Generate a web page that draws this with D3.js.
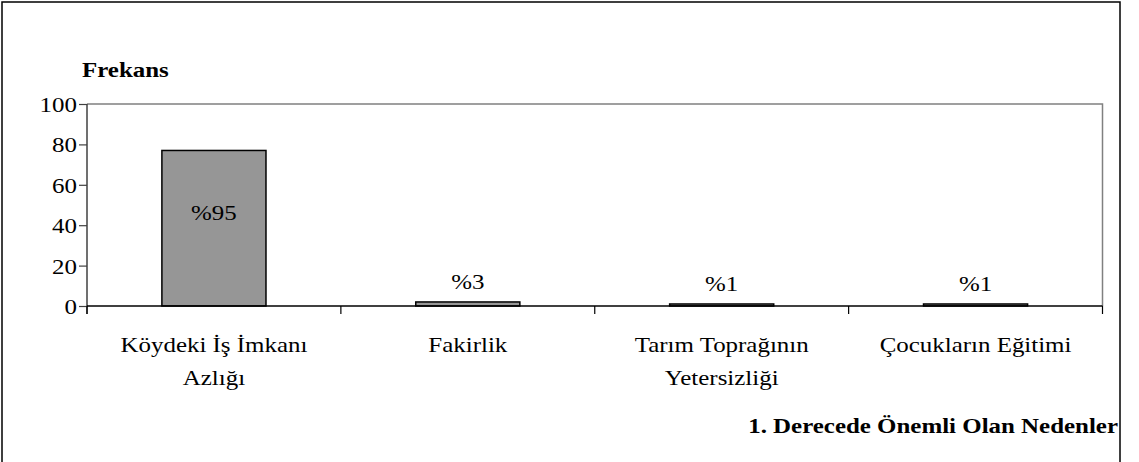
<!DOCTYPE html>
<html>
<head>
<meta charset="utf-8">
<script src="https://cdn.jsdelivr.net/npm/d3@7"></script>
<style>
  html, body { margin: 0; padding: 0; background: #fff; }
  svg { display: block; }
  text { font-family: "Liberation Serif", "Times New Roman", serif; fill: #000; }
</style>
</head>
<body>
<svg id="chart" width="1139" height="462"></svg>
<script>
const categories = [["Köydeki İş İmkanı", "Azlığı"], ["Fakirlik"], ["Tarım Toprağının", "Yetersizliği"], ["Çocukların Eğitimi"]];
const values = [77, 2, 1, 1];
const valueLabels = ["%95", "%3", "%1", "%1"];
const yTicks = [0, 20, 40, 60, 80, 100];
const yTitle = "Frekans";
const xTitle = "1. Derecede Önemli Olan Nedenler";

const svg = d3.select("#chart");
const W = 1139, H = 462;
const m = { left: 87, right: 1102.5, top: 104, bottom: 306 };
const SX = 1.16; // horizontal stretch of text in reference
const FS = 21.5;

// outer frame
svg.append("rect").attr("x", 2).attr("y", 2).attr("width", 1118).attr("height", H + 10)
  .attr("fill", "none").attr("stroke", "#000").attr("stroke-width", 1.5);

const x = d3.scaleBand().domain(d3.range(categories.length)).range([m.left, m.right]).paddingInner(0.59).paddingOuter(0.295);
const xb = d3.scaleBand().domain(d3.range(categories.length)).range([m.left, m.right]);
const y = d3.scaleLinear().domain([0, 100]).range([m.bottom, m.top]);

// plot area border (top & right grey)
svg.append("path").attr("d", `M${m.left},${m.top}H${m.right}V${m.bottom}`)
  .attr("fill", "none").attr("stroke", "#808080").attr("stroke-width", 1.5);

function stretchText(sel, tx, ty, anchor) {
  return sel.attr("transform", `translate(${tx},${ty}) scale(${SX},1)`).attr("text-anchor", anchor);
}

// bars
svg.selectAll("rect.bar").data(values).join("rect").attr("class", "bar")
  .attr("x", (d, i) => x(i)).attr("width", x.bandwidth())
  .attr("y", d => y(d)).attr("height", d => y(0) - y(d))
  .attr("fill", "#969696").attr("stroke", "#000").attr("stroke-width", 1.5);

// value labels
values.forEach((v, i) => {
  const cx = x(i) + x.bandwidth() / 2;
  const ty = v > 20 ? 220 : y(v) - 13;
  stretchText(svg.append("text").attr("font-size", FS).text(valueLabels[i]), cx, ty, "middle");
});

// y axis
const yAxis = svg.append("g").attr("transform", `translate(${m.left},0)`)
  .call(d3.axisLeft(y).tickValues(yTicks).tickSize(8).tickPadding(3).tickFormat(d3.format("d")));
yAxis.select(".domain").attr("stroke", "#404040").attr("stroke-width", 1.5).attr("d", `M0,${m.top}V${m.bottom + 8}`);
yAxis.selectAll(".tick line").attr("stroke", "#404040").attr("stroke-width", 1.2);
yAxis.selectAll(".tick text").each(function(d) {
  const t = d3.select(this);
  t.attr("font-family", null).attr("font-size", FS).attr("x", null).attr("dy", null);
  t.attr("transform", `translate(-10,7.5) scale(${SX},1)`).attr("text-anchor", "end");
});

// x axis
const xAxis = svg.append("g").attr("transform", `translate(0,${m.bottom})`);
xAxis.append("line").attr("x1", m.left).attr("x2", m.right).attr("stroke", "#000").attr("stroke-width", 1.5);
const bounds = d3.range(categories.length + 1).map(i => i < categories.length ? xb(i) : m.right);
xAxis.selectAll("line.tk").data(bounds).join("line").attr("class", "tk")
  .attr("x1", d => d).attr("x2", d => d).attr("y1", 0).attr("y2", 8)
  .attr("stroke", "#000").attr("stroke-width", 1.2);

// category labels
categories.forEach((lines, i) => {
  const cx = xb(i) + xb.bandwidth() / 2;
  lines.forEach((ln, j) => {
    stretchText(svg.append("text").attr("font-size", FS).text(ln), cx, 352 + j * 33, "middle");
  });
});

// titles
stretchText(svg.append("text").attr("font-size", FS).attr("font-weight", "bold").text(yTitle), 82, 77, "start");
stretchText(svg.append("text").attr("font-size", FS).attr("font-weight", "bold").text(xTitle), 1118, 433, "end");
</script>
</body>
</html>
